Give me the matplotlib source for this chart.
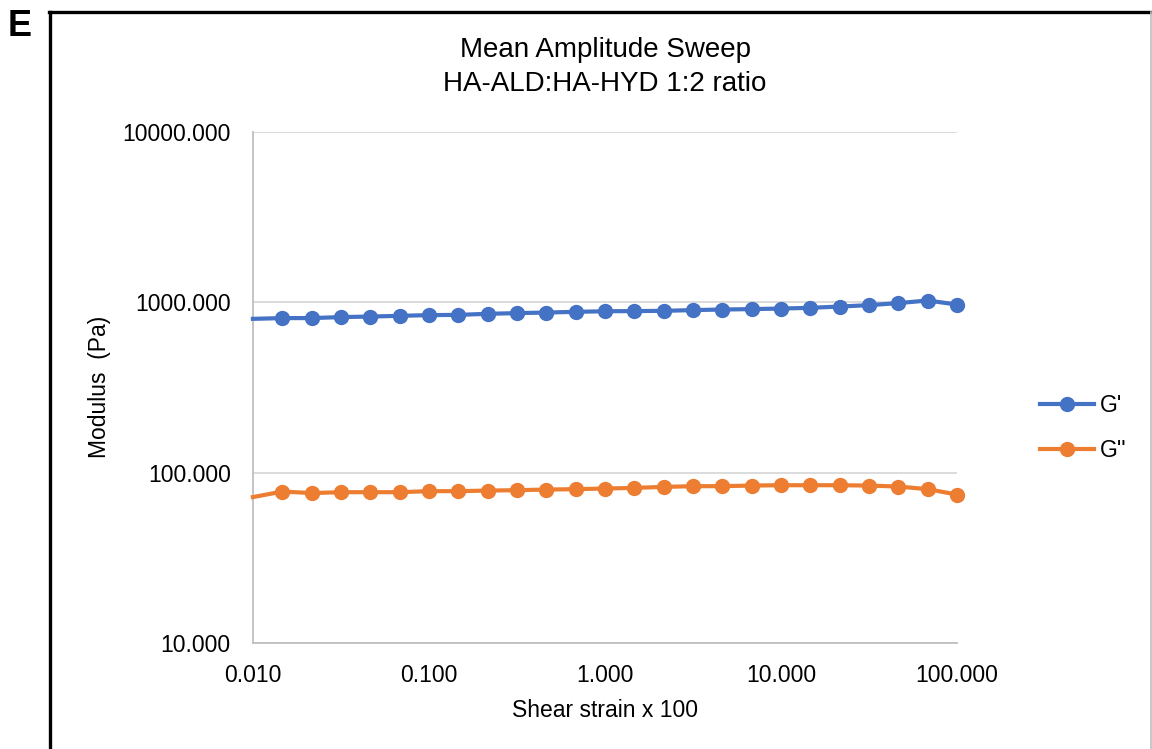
import matplotlib
matplotlib.use("Agg")
import matplotlib.pyplot as plt
from matplotlib.lines import Line2D
from matplotlib.ticker import FixedLocator, FixedFormatter, NullLocator

plt.rcParams["font.family"] = ["Liberation Sans", "DejaVu Sans"]

# Amplitude sweep data (strain x 100, modulus in Pa)
strain = [0.00999, 0.0147, 0.0215, 0.0316, 0.0464, 0.0681, 0.1, 0.147, 0.215,
          0.316, 0.464, 0.681, 1.0, 1.47, 2.15, 3.16, 4.64, 6.81, 10.0, 14.7,
          21.5, 31.6, 46.4, 68.1, 100.0]
g_storage = [798, 806, 806, 817, 823, 831, 839, 842, 854, 862, 869, 877, 884,
             886, 889, 898, 905, 910, 917, 926, 942, 960, 987, 1022, 968]
g_loss = [71.8, 77.4, 75.8, 76.7, 76.7, 76.7, 77.8, 77.8, 78.4, 78.8, 79.5,
          79.9, 80.6, 81.3, 82.4, 83.2, 83.2, 83.9, 84.3, 84.3, 84.3, 83.9,
          82.8, 79.9, 74.3]

y_ticks = [10, 100, 1000, 10000]
x_ticks = [0.01, 0.1, 1, 10, 100]
y_tick_labels = ["10.000", "100.000", "1000.000", "10000.000"]
x_tick_labels = ["0.010", "0.100", "1.000", "10.000", "100.000"]

title_text = "Mean Amplitude Sweep\nHA-ALD:HA-HYD 1:2 ratio"
x_label = "Shear strain x 100"
y_label = "Modulus  (Pa)"
series_names = ["G'", "G''"]
panel_letter = "E"

W, H = 1152, 749
fig = plt.figure(figsize=(W / 100, H / 100), dpi=100)

# plot area in pixel coordinates
left_px, right_px, top_px, bottom_px = 253, 957, 131.7, 643
ax = fig.add_axes([left_px / W, 1 - bottom_px / H,
                   (right_px - left_px) / W, (bottom_px - top_px) / H])

blue = "#4472C4"
orange = "#ED7D31"

for vals, col, name in [(g_storage, blue, series_names[0]),
                        (g_loss, orange, series_names[1])]:
    ax.plot(strain, vals, color=col, lw=3, marker="o", ms=10,
            markevery=slice(1, None), label=name, clip_on=False, zorder=3)

ax.set_xscale("log")
ax.set_yscale("log")
ax.set_xlim(0.01, 100)
ax.set_ylim(10, 10000)

ax.yaxis.set_major_locator(FixedLocator(y_ticks))
ax.yaxis.set_major_formatter(FixedFormatter(y_tick_labels))
ax.xaxis.set_major_locator(FixedLocator(x_ticks))
ax.xaxis.set_major_formatter(FixedFormatter(x_tick_labels))
ax.yaxis.set_minor_locator(NullLocator())
ax.xaxis.set_minor_locator(NullLocator())

ax.grid(True, axis="y", color="#D9D9D9", lw=1.3, zorder=0)
ax.tick_params(axis="both", length=0, labelsize=16.5, colors="black")
ax.tick_params(axis="y", pad=16)
ax.tick_params(axis="x", pad=15)
for s in ["top", "right"]:
    ax.spines[s].set_visible(False)
for s in ["left", "bottom"]:
    ax.spines[s].set_color("#BFBFBF")
    ax.spines[s].set_linewidth(1.3)

ax.set_xlabel(x_label, fontsize=16.5, labelpad=9)
ax.set_ylabel(y_label, fontsize=16.5, labelpad=8)

fig.text((left_px + right_px) / 2 / W, 1 - 67 / H, title_text,
         ha="center", va="center", fontsize=20, linespacing=1.4)

leg = ax.legend(loc="center left", bbox_to_anchor=(1040 / W, 1 - 428 / H),
                bbox_transform=fig.transFigure, frameon=False, fontsize=16.5,
                handlelength=2.35, handletextpad=0.25, labelspacing=0.95,
                borderpad=0, borderaxespad=0)

# panel letter and frame
fig.text(8 / W, 1 - 26 / H, panel_letter, fontsize=26, fontweight="bold",
         ha="left", va="center")
fig.add_artist(Line2D([50 / W, 50 / W], [0, 1 - 12 / H], color="black",
                      lw=2.4, transform=fig.transFigure))
fig.add_artist(Line2D([49 / W, 1151 / W], [1 - 12 / H, 1 - 12 / H],
                      color="black", lw=2.4, transform=fig.transFigure))
fig.add_artist(Line2D([1151 / W, 1151 / W], [0, 1 - 12 / H], color="#BFBFBF",
                      lw=1.2, transform=fig.transFigure))

fig.savefig("out.png", dpi=100)
